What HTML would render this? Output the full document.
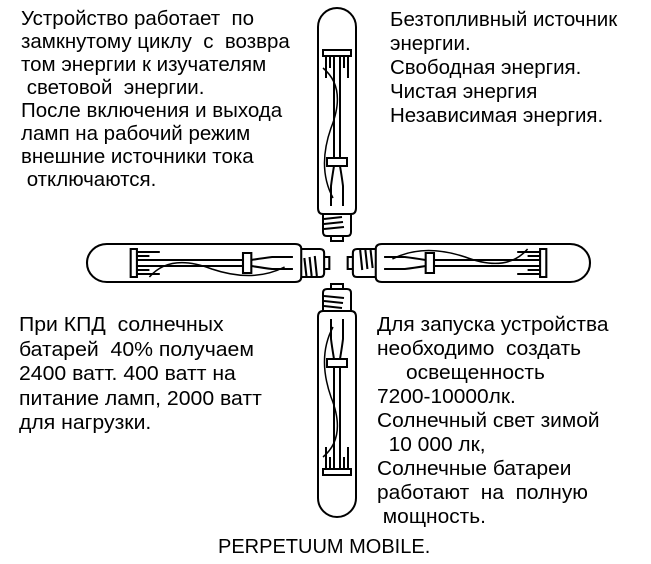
<!DOCTYPE html>
<html><head><meta charset="utf-8"><style>
body{margin:0;background:#fff;width:651px;height:564px;position:relative;overflow:hidden;font-family:"Liberation Sans",sans-serif;color:#000}
.t{position:absolute;font-size:20.5px;line-height:23px;white-space:pre}
.c{transform:scaleX(1.02);transform-origin:0 0;font-size:20.5px}
svg{position:absolute;left:0;top:0}
</style></head><body>
<svg width="651" height="564" viewBox="0 0 651 564">
<defs>
<g id="lamp" fill="none" stroke="#000" stroke-width="2">
<path d="M-19,200 L-19,19 A19,19 0 0 1 19,19 L19,200 Q19,206 14,206 L-14,206 Q-19,206 -19,200Z" fill="#fff"/>
<path d="M-14,206 L-14,224 Q-14,228 -10,228 L10,228 Q14,228 14,224 L14,206"/>
<path d="M-13,211 L5,209 M-13,216 L6,214 M-13,221 L7,219"/>
<path d="M-6,228 L-6,233 L6,233 L6,228"/>
<path d="M-14,42 L14,42 L14,48 L-14,48Z M-11,48 L-11,70 M-7,48 L-7,60 M7,48 L7,60 M11,48 L11,70"/>
<path d="M-3,48 L-3,150 M3,48 L3,150"/>
<path d="M-10,150 L10,150 L10,158 L-10,158Z"/>
<path d="M-3,158 Q-5,170 -6,178 L-6,198 M3,158 Q5,170 6,178 L6,198"/>
<path d="M-14,60 Q10,80 -6,120 Q-20,160 -4,190" stroke-width="1.5"/>
</g>
</defs>
<use href="#lamp" transform="translate(337,8)"/>
<use href="#lamp" transform="translate(337,517) scale(1,-1)"/>
<use href="#lamp" transform="translate(87,263) rotate(-90) scale(1,1.04)"/>
<use href="#lamp" transform="translate(590,263) rotate(90) scale(1,1.04)"/>
</svg>
<div class="t" style="left:21px;top:7px">Устройство работает  по
замкнутому циклу  с  возвра
том энергии к изучателям
 световой  энергии.
После включения и выхода
ламп на рабочий режим
внешние источники тока
 отключаются.</div>
<div class="t" style="left:390px;top:8px;line-height:24px">Безтопливный источник
энергии.
Свободная энергия.
Чистая энергия
Независимая энергия.</div>
<div class="t c" style="left:19px;top:313px;line-height:24.5px;transform:scaleX(1.035)">При КПД  солнечных
батарей  40% получаем
2400 ватт. 400 ватт на
питание ламп, 2000 ватт
для нагрузки.</div>
<div class="t c" style="left:377px;top:313px;line-height:24px">Для запуска устройства
необходимо  создать
     освещенность
7200-10000лк.
Солнечный свет зимой
  10 000 лк,
Солнечные батареи
работают  на  полную
 мощность.</div>
<div class="t" style="left:218px;top:536px;font-size:20px">PERPETUUM MOBILE.</div>
</body></html>
